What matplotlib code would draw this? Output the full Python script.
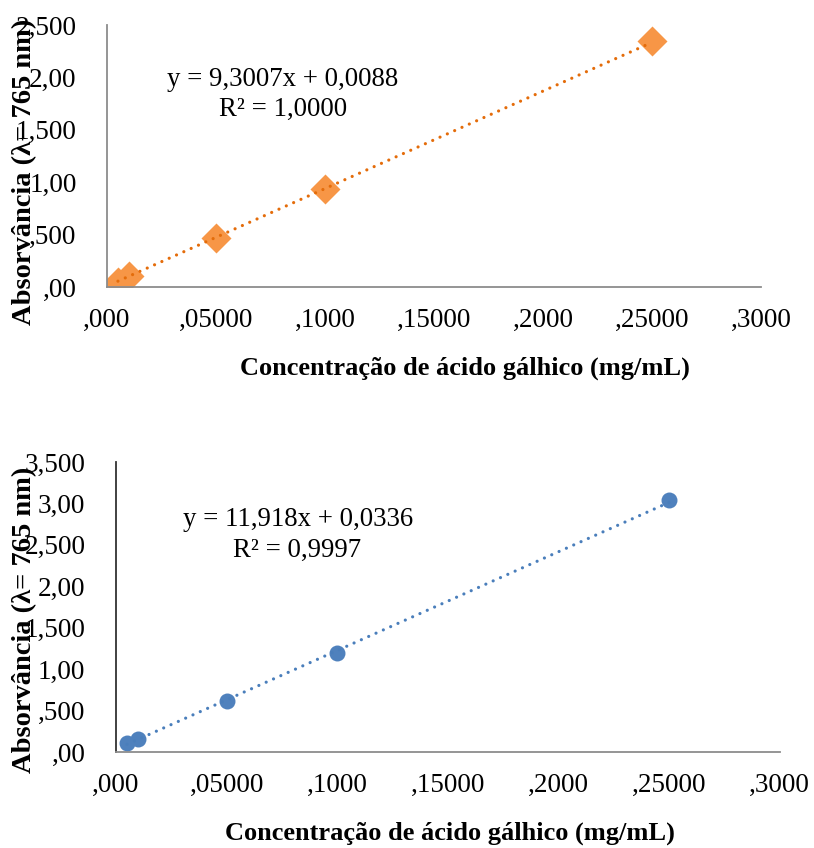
import matplotlib
matplotlib.use("Agg")
import numpy as np
import matplotlib.pyplot as plt

plt.rcParams['font.family'] = ['Liberation Serif', 'DejaVu Serif']

# data
conc = [0.005, 0.01, 0.05, 0.10, 0.25]
abs_top = [0.048, 0.105, 0.467, 0.935, 2.35]
abs_bottom = [0.11, 0.157, 0.62, 1.19, 3.04]

# trendline coefficients (from the equations shown on the chart)
slope_top, icpt_top = 9.3007, 0.0088
slope_bottom, icpt_bottom = 11.918, 0.0336

eq_top = ["y = 9,3007x + 0,0088", "R² = 1,0000"]
eq_bottom = ["y = 11,918x + 0,0336", "R² = 0,9997"]

xticks = [0, 0.05, 0.10, 0.15, 0.20, 0.25, 0.30]
xticklabels = [",000", ",05000", ",1000", ",15000", ",2000", ",25000", ",3000"]
yticks_top = [0, 0.5, 1.0, 1.5, 2.0, 2.5]
yticklabels_top = [",00", ",500", "1,00", "1,500", "2,00", "2,500"]
yticks_bottom = [0, 0.5, 1.0, 1.5, 2.0, 2.5, 3.0, 3.5]
yticklabels_bottom = [",00", ",500", "1,00", "1,500", "2,00", "2,500", "3,00", "3,500"]

xlabel = "Concentração de ácido gálhico (mg/mL)"
ylabel = "Absorvância (λ= 765 nm)"

fig = plt.figure(figsize=(8.14, 8.48), dpi=100)
ax1 = fig.add_axes([0.1315, 0.6616, 0.8035, 0.309])
ax2 = fig.add_axes([0.1425, 0.1132, 0.8155, 0.342])

def style(ax, yt, ytl, ymax, left_color):
    ax.set_xlim(0, 0.30)
    ax.set_ylim(0, ymax)
    ax.set_xticks(xticks)
    ax.set_xticklabels(xticklabels)
    ax.set_yticks(yt)
    ax.set_yticklabels(ytl)
    ax.tick_params(length=0, labelsize=19.5)
    ax.tick_params(axis='x', pad=15)
    ax.tick_params(axis='y', pad=22)
    for s in ['top', 'right']:
        ax.spines[s].set_visible(False)
    ax.spines['bottom'].set_color('#8c8c8c')
    ax.spines['left'].set_color(left_color)
    ax.spines['bottom'].set_linewidth(1.3)
    ax.spines['left'].set_linewidth(1.3)

style(ax1, yticks_top, yticklabels_top, 2.5, '#8c8c8c')
style(ax2, yticks_bottom, yticklabels_bottom, 3.5, '#333333')

# top chart
xl = np.array([min(conc), max(conc)])
ax1.plot(xl, slope_top * xl + icpt_top, color='#E46C0A', lw=2.3,
         linestyle=(0, (0.01, 2.5)), dash_capstyle='round', zorder=3)
ax1.plot(conc, abs_top, 'D', color='#F79646', markersize=15, mec='none', zorder=2)

# bottom chart
ax2.plot(xl, slope_bottom * xl + icpt_bottom, color='#4A7EBB', lw=2.3,
         linestyle=(0, (0.01, 2.5)), dash_capstyle='round', zorder=3)
ax2.plot(conc, abs_bottom, 'o', color='#4F81BD', markersize=11.5, mec='none', zorder=2)

fig.text(283 / 814, 1 - 80 / 848, eq_top[0], ha='center', va='center', fontsize=19.3)
fig.text(283 / 814, 1 - 109 / 848, eq_top[1], ha='center', va='center', fontsize=19.3)
fig.text(298 / 814, 1 - 520 / 848, eq_bottom[0], ha='center', va='center', fontsize=19.3)
fig.text(297 / 814, 1 - 550 / 848, eq_bottom[1], ha='center', va='center', fontsize=19.3)

fig.text(465 / 814, 1 - 368 / 848, xlabel, ha='center', va='center',
         fontsize=19, fontweight='bold')
fig.text(450 / 814, 1 - 833 / 848, xlabel, ha='center', va='center',
         fontsize=19, fontweight='bold')
fig.text(25 / 814, 1 - 172 / 848, ylabel, ha='center', va='center', rotation=90,
         fontsize=20.5, fontweight='bold')
fig.text(25 / 814, 1 - 620 / 848, ylabel, ha='center', va='center', rotation=90,
         fontsize=20.5, fontweight='bold')

plt.savefig("out.png", dpi=100)
